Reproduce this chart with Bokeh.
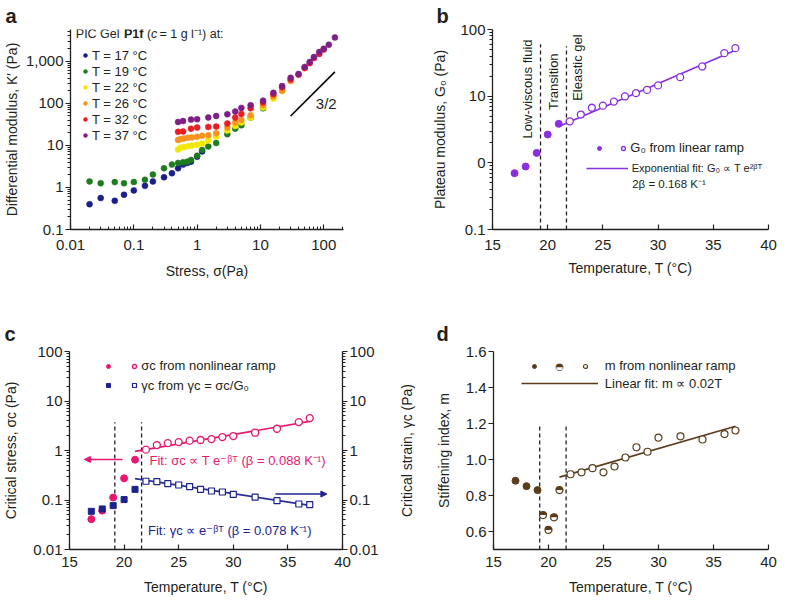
import math
from bokeh.plotting import figure
from bokeh.layouts import column, row
from bokeh.models import (Legend, LegendItem, Label, LogAxis, LinearAxis, FixedTicker,
                          NumeralTickFormatter, Arrow, NormalHead)
from bokeh.embed import file_html
from bokeh.resources import INLINE

FONT = "Liberation Sans"
INK = "#231f20"

# ---------------- panel a: differential modulus vs stress ----------------
temps_a = [17, 19, 22, 26, 32, 37]
colors_a = ["#1b1f8a", "#1e7b1e", "#f3e800", "#f7931e", "#ec1c24", "#7e1f86"]
stress_17 = [0.02, 0.03, 0.05, 0.07, 0.1, 0.15, 0.2, 0.3, 0.4, 0.5, 0.6, 0.7, 0.8, 1.0, 1.2]
K_17 = [0.40, 0.56, 0.48, 0.67, 0.85, 1.09, 1.39, 1.75, 2.18, 2.86, 3.5, 3.8, 4.1, 5.4, 7.2]
stress_19 = [0.02, 0.03, 0.05, 0.07, 0.1, 0.15, 0.2, 0.3, 0.4, 0.5, 0.6, 0.7, 0.8, 1.0, 1.2, 1.5, 2, 3, 4, 5, 7, 11]
K_19 = [1.39, 1.26, 1.34, 1.26, 1.34, 1.52, 2.03, 2.86, 3.49, 3.82, 3.96, 4.1, 4.5, 5.7, 7.8, 9.4, 11.4, 18.5, 25, 30, 46, 76]
stress_22 = [0.5, 0.55, 0.62, 0.72, 0.83, 1.0, 1.2, 1.5, 2, 3, 4, 5, 7, 11, 16, 22]
K_22 = [8.0, 8.8, 9.1, 9.6, 10.0, 10.4, 11.1, 13.1, 16.3, 22.5, 29, 35, 46, 80, 129, 196]
stress_26 = [0.5, 0.55, 0.62, 0.72, 0.83, 1.0, 1.2, 1.5, 2, 3, 4, 5, 7, 11, 16, 22, 30, 50]
K_26 = [13.4, 14.1, 14.6, 15.2, 15.5, 16.0, 16.9, 17.5, 19.5, 26.6, 35, 40, 52, 90, 145, 200, 340, 690]
stress_32 = [0.5, 0.6, 0.8, 1.0, 1.5, 2, 3, 4, 5, 7, 11, 16, 22, 30, 40, 50, 60, 70, 85, 100]
K_32 = [21, 21.5, 25, 26.5, 27.5, 28, 33, 46, 56, 76, 105, 165, 240, 370, 480, 690, 900, 1200, 1500, 1900]
stress_37 = [0.5, 0.6, 0.8, 1.0, 1.5, 2, 3, 4, 5, 7, 11, 16, 22, 30, 40, 50, 60, 70, 85, 100, 120, 150]
K_37 = [36, 38, 41, 42, 46, 50, 55, 64, 78, 90, 116, 178, 257, 404, 501, 734, 964, 1264, 1660, 1995, 2480, 3690]
slope_sigma = [30, 150]
slope_K = [50, 559]
slope_text_pos = (75, 100)

# ---------------- panel b: plateau modulus ----------------
T_b_fluid = [17, 18, 19, 20, 21]
G_b_fluid = [0.70, 0.88, 1.41, 2.66, 3.85]
T_b_gel = [22, 23, 24, 25, 26, 27, 28, 29, 30, 32, 34, 36, 37]
G_b_gel = [4.2, 5.3, 6.7, 7.2, 8.3, 9.9, 11.1, 12.4, 14.5, 19.3, 27.9, 44.2, 52.5]
T_b_fit = [21, 37]
G_b_fit = [3.5, 49]
T_bounds_b = [19.35, 21.7]
G_bounds_top_b = [60, 56]
regime_T = [18.2, 20.55, 22.67]
regime_G = [2.32, 6.2, 8.5]
regime_names = ["Low-viscous fluid", "Transition", "Eleastic gel"]

# ---------------- panel c: critical stress / strain ----------------
T_c_low = [17, 18, 19, 20, 21]
sigma_low = [0.041, 0.061, 0.112, 0.274, 0.653]
gamma_low = [0.059, 0.066, 0.077, 0.102, 0.164]
T_c_high = [22, 23, 24, 25, 26, 27, 28, 29, 30, 32, 34, 36, 37]
sigma_high = [1.04, 1.29, 1.41, 1.48, 1.58, 1.63, 1.70, 1.87, 1.96, 2.29, 2.75, 3.75, 4.51]
gamma_high = [0.239, 0.235, 0.214, 0.201, 0.187, 0.164, 0.152, 0.145, 0.130, 0.114, 0.097, 0.083, 0.081]
T_c_fit = [21, 37]
sigma_fit = [0.96, 3.87]
gamma_fit = [0.27, 0.078]
T_bounds_c = [19.15, 21.6]
bounds_top_c = 3.7
arrow_sigma = dict(T0=19.85, T1=16.36, v=0.66)
arrow_gamma = dict(T0=33.86, T1=38.57, v=0.132)

# ---------------- panel d: stiffening index ----------------
T_d_low = [17, 18, 19]
m_low = [0.882, 0.852, 0.830]
T_d_mid = [19.5, 20, 20.5, 21]
m_mid = [0.691, 0.609, 0.679, 0.830]
T_d_high = [22, 23, 24, 25, 26, 27, 28, 29, 30, 32, 34, 36, 37]
m_high = [0.918, 0.929, 0.952, 0.929, 0.961, 1.011, 1.068, 1.043, 1.121, 1.129, 1.111, 1.141, 1.161]
T_d_fit = [21, 37]
m_fit = [0.902, 1.185]
T_bounds_d = [19.2, 21.6]
bounds_top_d = 1.2

# tick values
ticks_a_x = [0.01, 0.1, 1, 10, 100]
ticks_a_y = [0.1, 1, 10, 100, 1000]
ticks_log_c = [0.01, 0.1, 1, 10, 100]
ticks_log_b = [0.1, 1, 10, 100]
ticks_T = [15, 20, 25, 30, 35, 40]
ticks_m = [0.6, 0.8, 1.0, 1.2, 1.4, 1.6]

PURPLE = "#8a2fe0"
PINK = "#e8176f"
NAVY = "#1c2390"
BLUE_LINE = "#2a2d96"
BROWN = "#5b3c1c"


def minors(lo_exp, hi_exp):
    return [m * 10.0 ** e for e in range(lo_exp, hi_exp) for m in range(2, 10)]


def make_fig(w, h, l, r, t, b, letter, letter_offset, letter_standoff, **kw):
    p = figure(width=w, height=h, min_border_left=l, min_border_right=r,
               min_border_top=t, min_border_bottom=b, output_backend="svg",
               toolbar_location=None, **kw)
    p.outline_line_color = None
    p.grid.visible = False
    p.background_fill_color = "white"
    p.border_fill_color = "white"
    p.title.text = letter
    p.title.align = "left"
    p.title.offset = letter_offset
    p.title.standoff = letter_standoff
    p.title.text_font = FONT
    p.title.text_font_size = "20px"
    p.title.text_font_style = "bold"
    p.title.text_color = INK
    return p


def style_axis(ax, horizontal, label_standoff, axis_label_standoff):
    ax.axis_line_color = INK
    ax.axis_line_width = 1.3
    ax.major_tick_line_color = INK
    ax.minor_tick_line_color = INK
    ax.major_tick_line_width = 1.2
    ax.major_label_text_font = FONT
    ax.major_label_text_font_size = "15px"
    ax.major_label_text_color = INK
    ax.axis_label_text_font = FONT
    ax.axis_label_text_font_size = "14px"
    ax.axis_label_text_font_style = "normal"
    ax.axis_label_text_color = INK
    ax.major_label_standoff = label_standoff
    ax.axis_label_standoff = axis_label_standoff
    if horizontal:
        ax.major_tick_in, ax.major_tick_out = 5, 0
        ax.minor_tick_in, ax.minor_tick_out = 3, 0
    else:
        ax.major_tick_in, ax.major_tick_out = 0, 5
        ax.minor_tick_in, ax.minor_tick_out = 0, 3


def slabel(p, fl, fb, X, Y, text, size="13px", color=INK, style="normal",
           align="left", baseline="middle", angle=0.0, font=FONT):
    p.add_layout(Label(x=X - fl, y=fb - Y, x_units="screen", y_units="screen",
                       text=text, text_font=font, text_font_size=size,
                       text_color=color, text_font_style=style, text_align=align,
                       text_baseline=baseline, angle=angle))


def dlabel(p, x, y, text, size="13px", color=INK, align="left", baseline="middle", angle=0.0):
    p.add_layout(Label(x=x, y=y, text=text, text_font=FONT, text_font_size=size,
                       text_color=color, text_align=align, text_baseline=baseline,
                       angle=angle))


def add_legend(p, fl, fb, items, cx, cy, gw=10, gh=16, standoff=2, size="13px", spacing=0):
    n = len(items)
    height = n * gh + (n - 1) * spacing
    lg = Legend(items=[LegendItem(label=lab, renderers=rs) for lab, rs in items],
                location=(cx - gw / 2 - fl, fb - (cy - gh / 2 + height)),
                orientation="vertical", glyph_width=gw, glyph_height=gh,
                label_height=gh, label_width=0, label_standoff=standoff,
                padding=0, margin=0, spacing=spacing,
                border_line_color=None, background_fill_alpha=0,
                label_text_font=FONT, label_text_font_size=size,
                label_text_color=INK)
    p.add_layout(lg)


# =============================== panel a ===============================
AFL, AFB = 68, 229
pa = make_fig(394, 300, 68, 51, 28, 71, "a", -65, 5, x_axis_type="log", y_axis_type="log",
              x_range=(0.01, 205), y_range=(0.1, 5700))
pa.xaxis.ticker = FixedTicker(ticks=ticks_a_x, minor_ticks=minors(-2, 3))
pa.yaxis.ticker = FixedTicker(ticks=ticks_a_y, minor_ticks=minors(-1, 4))
pa.xaxis.formatter = NumeralTickFormatter(format="0,0.[00]")
pa.yaxis.formatter = NumeralTickFormatter(format="0,0.[00]")
pa.xaxis.axis_label = "Stress, σ(Pa)"
pa.yaxis.axis_label = "Differential modulus, K′ (Pa)"
style_axis(pa.xaxis[0], True, 10, 10)
style_axis(pa.yaxis[0], False, 2, 3)

series_a = [(stress_17, K_17), (stress_19, K_19), (stress_22, K_22),
            (stress_26, K_26), (stress_32, K_32), (stress_37, K_37)]
rends_a = []
for (sx, ky), col in zip(series_a, colors_a):
    r = pa.scatter(sx, ky, marker="circle", size=6, fill_color=col, line_color=col, line_width=0.5)
    rends_a.append(r)
pa.line(slope_sigma, slope_K, line_color="black", line_width=1.6)
dlabel(pa, slope_text_pos[0], slope_text_pos[1], "3/2", size="15px")
add_legend(pa, AFL, AFB, [(f"T = {t} °C", [r]) for t, r in zip(temps_a, rends_a)],
           cx=83, cy=55, gw=10, gh=16, standoff=2)
slabel(pa, AFL, AFB, 73.3, 33.5, "PIC Gel", size="12.5px")
slabel(pa, AFL, AFB, 121.5, 33.5, "P1f", size="12.5px", style="bold")
slabel(pa, AFL, AFB, 144.5, 33.5, "(", size="12.5px")
slabel(pa, AFL, AFB, 148.5, 33.5, "c", size="12.5px", style="italic")
slabel(pa, AFL, AFB, 157.0, 33.5, "= 1 g l⁻¹) at:", size="12.5px")

# =============================== panel b ===============================
BFL, BFB = 492, 229
pb = make_fig(394, 300, 98, 20, 29, 71, "b", -56, 5, y_axis_type="log",
              x_range=(15, 40), y_range=(0.1, 100))
pb.xaxis.ticker = FixedTicker(ticks=ticks_T, minor_ticks=[])
pb.yaxis.ticker = FixedTicker(ticks=ticks_log_b, minor_ticks=minors(-1, 2))
pb.yaxis.formatter = NumeralTickFormatter(format="0,0.[00]")
pb.yaxis.major_label_overrides = {1: "0"}
pb.xaxis.axis_label = "Temperature, T (°C)"
pb.yaxis.axis_label = "Plateau modulus, G₀ (Pa)"
style_axis(pb.xaxis[0], True, 10, 7)
style_axis(pb.yaxis[0], False, 2, 9)

for tb, gt in zip(T_bounds_b, G_bounds_top_b):
    pb.segment(x0=[tb], y0=[0.1], x1=[tb], y1=[gt], line_color=INK,
               line_width=1.3, line_dash="4 3")
for tx, gy, name in zip(regime_T, regime_G, regime_names):
    dlabel(pb, tx, gy, name, angle=math.pi / 2, align="left", baseline="middle")
fit_b = pb.line(T_b_fit, G_b_fit, line_color=PURPLE, line_width=1.6)
fill_b = pb.scatter(T_b_fluid, G_b_fluid, marker="circle", size=7,
                    fill_color=PURPLE, line_color=PURPLE)
open_b = pb.scatter(T_b_gel, G_b_gel, marker="circle", size=7,
                    fill_color="white", line_color=PURPLE, line_width=1.3)
add_legend(pb, BFL, BFB, [("", [fill_b])], cx=599, cy=147.7)
add_legend(pb, BFL, BFB, [("G₀ from linear ramp", [open_b])], cx=623.3, cy=147.7, standoff=2)
add_legend(pb, BFL, BFB, [("Exponential fit: G₀ ∝ T e²ᵝᵀ", [fit_b])],
           cx=606.7, cy=168.3, gw=42, standoff=4, size="11px")
slabel(pb, BFL, BFB, 631.7, 183.5, "2β = 0.168 K⁻¹", size="11.5px")

# =============================== panel c ===============================
CFL, CFB = 68, 549
pc = make_fig(394, 303, 68, 52, 51, 54, "c", -65, 14, y_axis_type="log",
              x_range=(15, 40), y_range=(0.01, 100))
pc.xaxis.ticker = FixedTicker(ticks=ticks_T, minor_ticks=[])
pc.yaxis.ticker = FixedTicker(ticks=ticks_log_c, minor_ticks=minors(-2, 2))
pc.yaxis.formatter = NumeralTickFormatter(format="0,0.[00]")
pc.xaxis.axis_label = "Temperature, T (°C)"
pc.yaxis.axis_label = "Critical stress, σc (Pa)"
right_c = LogAxis(ticker=FixedTicker(ticks=ticks_log_c, minor_ticks=minors(-2, 2)),
                  formatter=NumeralTickFormatter(format="0,0.[00]"))
pc.add_layout(right_c, "right")
style_axis(pc.xaxis[0], True, 7, 9)
style_axis(pc.yaxis[0], False, 2, 11)
style_axis(right_c, False, 2, 4)

for tb in T_bounds_c:
    pc.segment(x0=[tb], y0=[0.01], x1=[tb], y1=[bounds_top_c], line_color=INK,
               line_width=1.3, line_dash="4 3")
pc.line(T_c_fit, sigma_fit, line_color=PINK, line_width=1.6)
pc.line(T_c_fit, gamma_fit, line_color=BLUE_LINE, line_width=1.6)
fill_sig = pc.scatter(T_c_low, sigma_low, marker="circle", size=7, fill_color=PINK, line_color=PINK)
open_sig = pc.scatter(T_c_high, sigma_high, marker="circle", size=7, fill_color="white",
                      line_color=PINK, line_width=1.3)
fill_gam = pc.scatter(T_c_low, gamma_low, marker="square", size=6, fill_color=NAVY, line_color=NAVY)
open_gam = pc.scatter(T_c_high, gamma_high, marker="square", size=6, fill_color="white",
                      line_color=NAVY, line_width=1.2)
pc.add_layout(Arrow(end=NormalHead(size=6, fill_color=PINK, line_color=PINK),
                    x_start=arrow_sigma["T0"], y_start=arrow_sigma["v"],
                    x_end=arrow_sigma["T1"], y_end=arrow_sigma["v"],
                    line_color=PINK, line_width=1.5))
pc.add_layout(Arrow(end=NormalHead(size=6, fill_color=NAVY, line_color=NAVY),
                    x_start=arrow_gamma["T0"], y_start=arrow_gamma["v"],
                    x_end=arrow_gamma["T1"], y_end=arrow_gamma["v"],
                    line_color=NAVY, line_width=1.5))
dlabel(pc, 22.33, 0.63, "Fit: σc ∝ T e⁻ᵝᵀ (β = 0.088 K⁻¹)", color=PINK)
dlabel(pc, 22.19, 0.0245, "Fit: γc ∝ e⁻ᵝᵀ (β = 0.078 K⁻¹)", color=NAVY)
add_legend(pc, CFL, CFB, [("", [fill_sig])], cx=107.3, cy=365.7)
add_legend(pc, CFL, CFB, [("σc from nonlinear ramp", [open_sig])], cx=133.3, cy=365.7)
add_legend(pc, CFL, CFB, [("", [fill_gam])], cx=107.3, cy=385)
add_legend(pc, CFL, CFB, [("γc from γc = σc/G₀", [open_gam])], cx=133.3, cy=385)

# =============================== panel d ===============================
DFL, DFB = 493, 549
pd_ = make_fig(394, 303, 99, 20, 51, 54, "d", -57, 13, x_range=(15, 40), y_range=(0.5, 1.6))
pd_.xaxis.ticker = FixedTicker(ticks=ticks_T, minor_ticks=[])
pd_.yaxis.ticker = FixedTicker(ticks=ticks_m, minor_ticks=[])
pd_.yaxis.formatter = NumeralTickFormatter(format="0.0")
pd_.xaxis.axis_label = "Temperature, T (°C)"
pd_.yaxis.axis_label = "Stiffening index, m"
style_axis(pd_.xaxis[0], True, 7, 9)
style_axis(pd_.yaxis[0], False, 2, 11)
# title of panel c's right-hand axis; it sits in the gutter between c and d
strain_title = LinearAxis(ticker=FixedTicker(ticks=[], minor_ticks=[]),
                          axis_label="Critical strain, γc (Pa)")
style_axis(strain_title, False, 0, 18)
strain_title.axis_line_color = None
strain_title.major_tick_out = 0
strain_title.minor_tick_out = 0
pd_.add_layout(strain_title, "left")

for tb in T_bounds_d:
    pd_.segment(x0=[tb], y0=[0.5], x1=[tb], y1=[bounds_top_d], line_color=INK,
                line_width=1.3, line_dash="4 3")
fit_d = pd_.line(T_d_fit, m_fit, line_color=BROWN, line_width=1.6)
fill_d = pd_.scatter(T_d_low, m_low, marker="circle", size=7, fill_color=BROWN, line_color=BROWN)
half_bg = pd_.scatter(T_d_mid, m_mid, marker="circle", size=7, fill_color="white",
                      line_color=BROWN, line_width=1.2)
pd_.wedge(T_d_mid, m_mid, radius=3.6, radius_units="screen", start_angle=0,
          end_angle=math.pi, fill_color=BROWN, line_color=None)
open_d = pd_.scatter(T_d_high, m_high, marker="circle", size=7, fill_color="white",
                     line_color=BROWN, line_width=1.2)
add_legend(pd_, DFL, DFB, [("", [fill_d])], cx=534, cy=365.7)
slabel(pd_, DFL, DFB, 559, 365.7, "◓", size="10px", color=BROWN, align="center",
       font="DejaVu Sans")
add_legend(pd_, DFL, DFB, [("m from nonlinear ramp", [open_d])], cx=584.7, cy=365.7,
           standoff=15)
add_legend(pd_, DFL, DFB, [("Linear fit: m ∝ 0.02T", [fit_d])], cx=559.3, cy=383.3,
           gw=77, standoff=7)

layout = column(row(pa, pb), row(pc, pd_))
open("out.html", "w").write(file_html(layout, INLINE, "Figure"))
